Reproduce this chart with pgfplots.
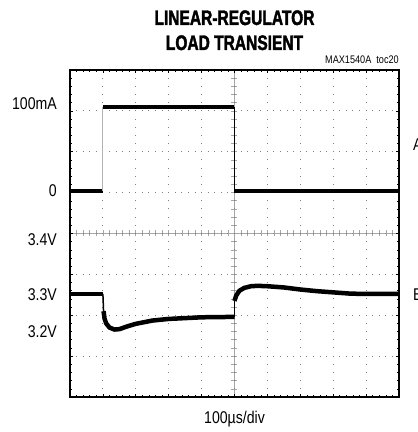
\documentclass[border=0pt]{standalone}
\usepackage{pgfplots}
\pgfplotsset{compat=1.18}
\usepackage{fontspec}
\setmainfont{Liberation Sans}[FakeStretch=0.83]
\newfontfamily\titlefont{Liberation Sans}[FakeStretch=0.74, BoldFeatures={FakeBold=1.8}]

\begin{document}
\begin{tikzpicture}
% centre cross of the graticule (1 px = 1 pt, axis origin at lower left)
\draw[gray!70, line width=0.6pt] (0,163.5pt) -- (329pt,163.5pt);
\draw[gray!70, line width=0.6pt] (164.5pt,0) -- (164.5pt,327pt);
\foreach \i in {0,...,50} \draw[gray!70, line width=0.6pt] (\i*6.58pt,160.5pt) -- ++(0,6pt);
\foreach \i in {0,...,40} \draw[gray!70, line width=0.6pt] (161.5pt,\i*8.175pt) -- ++(6pt,0);

\begin{axis}[
  at={(0,0)}, anchor=south west,
  width=329pt, height=327pt, scale only axis,
  xmin=0, xmax=10, ymin=0, ymax=8,
  xtick={0,...,10}, ytick={0,...,8},
  xticklabels={}, yticklabels={},
  minor x tick num=4, minor y tick num=4,
  tick align=inside, major tick length=3pt, minor tick length=2pt,
  every tick/.style={black, line width=0.6pt},
  grid=major,
  x grid style={gray, line width=1pt, dash pattern=on 1pt off 7.175pt, dash phase=0.5pt},
  y grid style={gray, line width=1pt, dash pattern=on 1pt off 5.58pt, dash phase=0.5pt},
  axis line style={line width=2.5pt},
  extra y ticks={7.17,5.04,3.84,2.50,1.59},
  extra y tick labels={100mA,0,3.4V,3.3V,3.2V},
  extra y tick style={grid=none, major tick length=0pt},
  yticklabel style={font=\fontsize{17pt}{18pt}\selectfont, inner sep=0pt, xshift=-13pt},
]
% trace A: load current
\addplot[black, line width=4pt] coordinates {(0,5.05) (1.0,5.05)};
\addplot[gray!60, line width=1pt] coordinates {(1.0,5.05) (1.0,7.09)};
\addplot[black, line width=4pt] coordinates {(1.0,7.09) (5.0,7.09)};
\addplot[black, line width=1.5pt] coordinates {(5.0,7.09) (5.0,5.05)};
\addplot[black, line width=4pt] coordinates {(5.0,5.05) (10,5.05)};
% trace B: output voltage
\addplot[black, line width=4pt, line join=round] coordinates {
  (0,2.52) (1.0,2.52)};
\addplot[black, line width=1.5pt] coordinates {(1.0,2.52) (1.02,2.1)};
\addplot[black, line width=4.5pt, line join=round] coordinates {
  (1.02,2.1) (1.05,1.92) (1.1,1.8) (1.2,1.7) (1.35,1.65) (1.5,1.66)
  (1.75,1.73) (2.0,1.79) (2.5,1.87) (3.0,1.91) (3.5,1.93) (4.0,1.95) (5.0,1.96)};
\addplot[black, line width=1.5pt] coordinates {(5.0,1.96) (5.0,2.35)};
\addplot[black, line width=4.5pt, line join=round] coordinates {
  (5.0,2.35) (5.05,2.48) (5.15,2.6) (5.3,2.67) (5.5,2.71) (5.7,2.72) (6.0,2.71)
  (6.5,2.68) (7.0,2.63) (7.5,2.59) (8.0,2.56) (8.5,2.53) (9.0,2.52) (10,2.52)};
\end{axis}

% titles and labels
\node[anchor=base, font=\titlefont\bfseries\fontsize{21pt}{24pt}\selectfont] at (164.5pt,372pt) {LINEAR-REGULATOR};
\node[anchor=base, font=\titlefont\bfseries\fontsize{21pt}{24pt}\selectfont] at (164.5pt,347pt) {LOAD TRANSIENT};
\node[anchor=base east, inner sep=0pt, font=\fontsize{11pt}{12pt}\selectfont] at (329pt,333pt) {MAX1540A\ \ toc20};
\node[anchor=base, inner sep=0pt, font=\fontsize{17pt}{18pt}\selectfont] at (164.5pt,-26pt) {100µs/div};
\node[anchor=base west, inner sep=0pt, font=\fontsize{17pt}{18pt}\selectfont] at (343pt,247pt) {A};
\node[anchor=base west, inner sep=0pt, font=\fontsize{17pt}{18pt}\selectfont] at (343pt,97pt) {B};

\pgfresetboundingbox
\path[use as bounding box] (-70pt,-35pt) rectangle (348pt,397pt);
\end{tikzpicture}
\end{document}
